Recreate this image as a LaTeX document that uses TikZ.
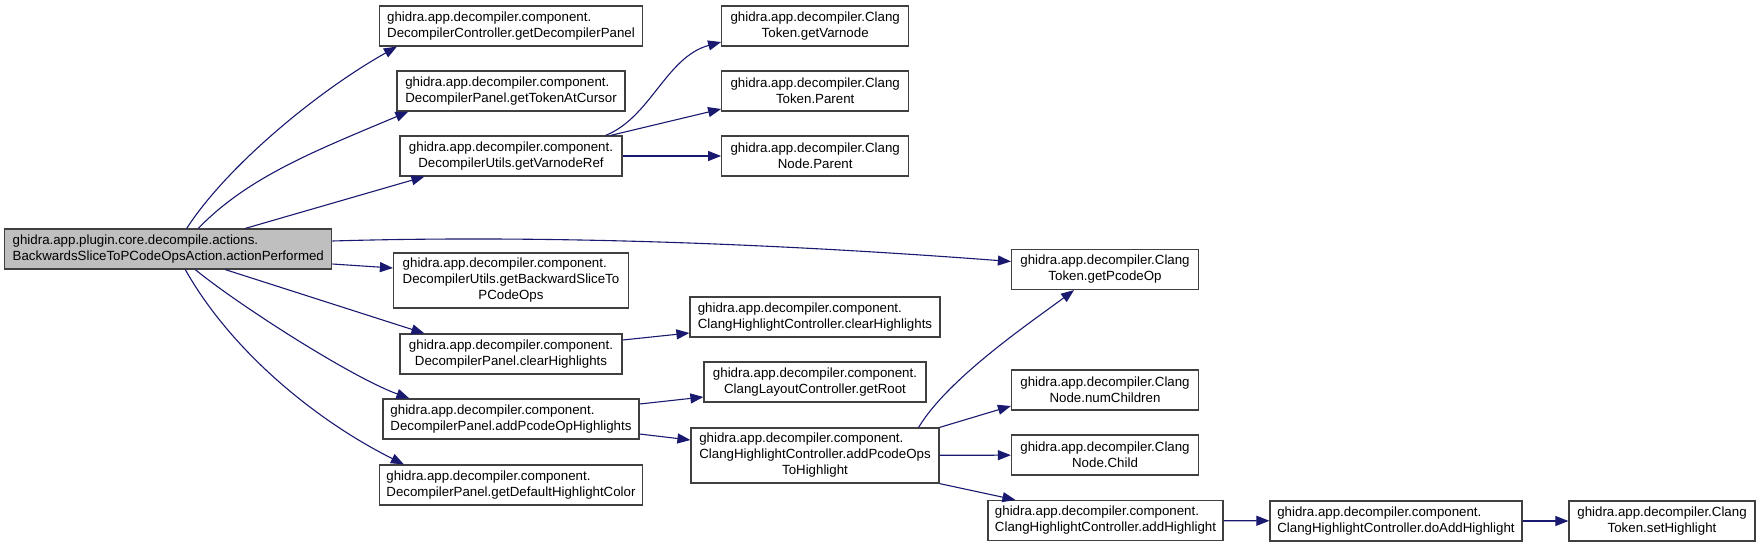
\documentclass[tikz,border=0pt]{standalone}
\usepackage{fontspec}
\setmainfont{Liberation Sans}
\usetikzlibrary{arrows.meta}
\definecolor{edgeblue}{HTML}{191970}
\definecolor{boxline}{HTML}{404040}
\definecolor{rootfill}{HTML}{BFBFBF}

\begin{document}
\begin{tikzpicture}[
    x=1pt, y=-1pt,
    every node/.style={font=\fontsize{13.3}{16}\selectfont},
    fnode/.style={draw=boxline, line width=1.2pt, fill=white, inner sep=0pt, minimum height=40pt},
    cnode/.style={fnode, align=center},
    lnode/.style={fnode, align=left},
    call/.style={draw=edgeblue, line width=1.1pt, -{Triangle[length=13pt,width=10pt]}}
]
\useasboundingbox (0,0) rectangle (1761,547);

% caller
\node[lnode, fill=rootfill, minimum width=327pt] (root) at (168.3,249) {ghidra.app.plugin.core.decompile.actions.\\BackwardsSliceToPCodeOpsAction.actionPerformed};

% first level
\node[lnode, minimum width=263pt] (getpanel) at (511,26) {ghidra.app.decompiler.component.\\DecompilerController.getDecompilerPanel};
\node[lnode, minimum width=228pt] (gettoken) at (511,91) {ghidra.app.decompiler.component.\\DecompilerPanel.getTokenAtCursor};
\node[cnode, minimum width=222pt] (varref) at (511,156) {ghidra.app.decompiler.component.\\DecompilerUtils.getVarnodeRef};
\node[fnode, minimum width=235pt, minimum height=55pt] (slice) at (511,280.5) {\begin{tabular}{@{}l@{}}ghidra.app.decompiler.component.\\DecompilerUtils.getBackwardSliceTo\\\multicolumn{1}{@{}c@{}}{PCodeOps}\end{tabular}};
\node[cnode, minimum width=222pt] (dpclear) at (511,354) {ghidra.app.decompiler.component.\\DecompilerPanel.clearHighlights};
\node[lnode, minimum width=256pt] (addhl) at (511,419) {ghidra.app.decompiler.component.\\DecompilerPanel.addPcodeOpHighlights};
\node[lnode, minimum width=263pt] (defcolor) at (511,485) {ghidra.app.decompiler.component.\\DecompilerPanel.getDefaultHighlightColor};

% second level
\node[cnode, minimum width=187pt] (getvarnode) at (815.2,26) {ghidra.app.decompiler.Clang\\Token.getVarnode};
\node[cnode, minimum width=187pt] (tokparent) at (815.2,91) {ghidra.app.decompiler.Clang\\Token.Parent};
\node[cnode, minimum width=187pt] (nodeparent) at (815.2,156) {ghidra.app.decompiler.Clang\\Node.Parent};
\node[lnode, minimum width=250pt] (chclear) at (815,317) {ghidra.app.decompiler.component.\\ClangHighlightController.clearHighlights};
\node[cnode, minimum width=222pt] (getroot) at (815,382) {ghidra.app.decompiler.component.\\ClangLayoutController.getRoot};
\node[fnode, minimum width=248pt, minimum height=55pt] (opstohl) at (815,455.5) {\begin{tabular}{@{}l@{}}ghidra.app.decompiler.component.\\ClangHighlightController.addPcodeOps\\\multicolumn{1}{@{}c@{}}{ToHighlight}\end{tabular}};

% third level
\node[cnode, minimum width=187pt] (getpcodeop) at (1105,269.5) {ghidra.app.decompiler.Clang\\Token.getPcodeOp};
\node[cnode, minimum width=187pt] (numchildren) at (1105,390) {ghidra.app.decompiler.Clang\\Node.numChildren};
\node[cnode, minimum width=187pt] (child) at (1105,455) {ghidra.app.decompiler.Clang\\Node.Child};
\node[lnode, minimum width=235pt] (addhigh) at (1105.5,520.5) {ghidra.app.decompiler.component.\\ClangHighlightController.addHighlight};
\node[lnode, minimum width=252pt] (doadd) at (1396,521) {ghidra.app.decompiler.component.\\ClangHighlightController.doAddHighlight};
\node[cnode, minimum width=186pt] (sethl) at (1662,521) {ghidra.app.decompiler.Clang\\Token.setHighlight};

% calls from the caller
\draw[call] ([xshift=18.4pt]root.north) .. controls +(40,-62) and +(-80,45) .. ([xshift=18pt]getpanel.south west);
\draw[call] ([xshift=30pt]root.north) .. controls +(50,-52) and +(-90,38) .. ([xshift=12pt]gettoken.south west);
\draw[call] ([xshift=77pt]root.north) -- ([xshift=25pt]varref.south west);
\draw[call] ([yshift=8pt]root.east) .. controls +(200,-6) and +(-250,-19) .. ([yshift=8pt]getpcodeop.west);
\draw[call] ([yshift=-15pt]root.east) -- ([yshift=12.5pt]slice.west);
\draw[call] ([xshift=57pt]root.south) -- ([xshift=25pt]dpclear.north west);
\draw[call] ([xshift=27pt]root.south) .. controls +(40,33) and +(-60,-22) .. ([xshift=27pt]addhl.north west);
\draw[call] ([xshift=17pt]root.south) .. controls +(45,80) and +(-90,-45) .. ([xshift=25pt]defcolor.north west);

% calls further down
\draw[call] ([xshift=-17pt]varref.north east) .. controls +(45,-18) and +(-55,15) .. ([yshift=-16pt]getvarnode.west);
\draw[call] ([xshift=-12pt]varref.north east) -- ([yshift=-18pt]tokparent.west);
\draw[call] (varref) -- (nodeparent);
\draw[call] ([yshift=14pt]dpclear.east) -- ([yshift=-16pt]chclear.west);
\draw[call] ([yshift=15pt]addhl.east) -- ([yshift=-15pt]getroot.west);
\draw[call] ([yshift=-15pt]addhl.east) -- ([yshift=15.5pt]opstohl.west);
\draw[call] ([xshift=-21pt]opstohl.north east) .. controls +(30,-50) and +(-40,30) .. ([xshift=-31pt]getpcodeop.south);
\draw[call] (opstohl.north east) -- ([yshift=-16pt]numchildren.west);
\draw[call] (opstohl) -- (child);
\draw[call] (opstohl.south east) -- ([xshift=28pt]addhigh.north west);
\draw[call] (addhigh) -- (doadd);
\draw[call] (doadd) -- (sethl);

\end{tikzpicture}
\end{document}
